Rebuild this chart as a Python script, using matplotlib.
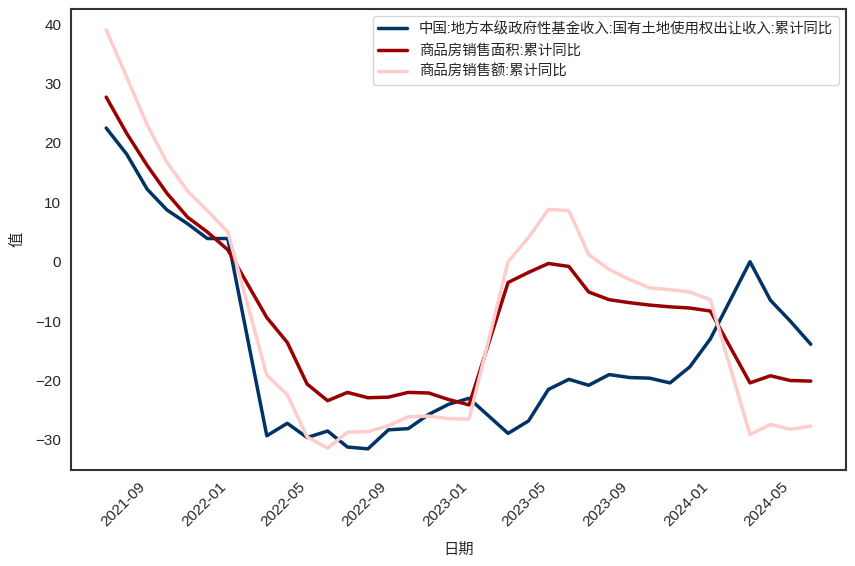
import matplotlib
matplotlib.use("Agg")
import matplotlib.pyplot as plt
import matplotlib.dates as mdates
import pandas as pd
import seaborn as sns

# month-end dates (January is folded into February in the source data)
dates = [
    "2021-06-30", "2021-07-31", "2021-08-31", "2021-09-30", "2021-10-31", "2021-11-30", "2021-12-31",
    "2022-02-28", "2022-03-31", "2022-04-30", "2022-05-31", "2022-06-30", "2022-07-31",
    "2022-08-31", "2022-09-30", "2022-10-31", "2022-11-30", "2022-12-31",
    "2023-02-28", "2023-03-31", "2023-04-30", "2023-05-31", "2023-06-30", "2023-07-31",
    "2023-08-31", "2023-09-30", "2023-10-31", "2023-11-30", "2023-12-31",
    "2024-02-29", "2024-03-31", "2024-04-30", "2024-05-31",
]

land_income = [
    22.5, 18.1, 12.2, 8.7, 6.4, 3.9, 3.9,
    -29.3, -27.2, -29.6, -28.5, -31.2, -31.5, -28.3, -28.1, -25.7, -24.0, -23.0,
    -28.9, -26.8, -21.5, -19.8, -20.8, -19.0, -19.5, -19.6, -20.4, -17.7, -13.0,
    0.0, -6.5, -10.0, -13.9,
]
sales_area = [
    27.7, 21.6, 16.2, 11.5, 7.5, 5.0, 2.0,
    -9.4, -13.6, -20.6, -23.4, -22.0, -22.9, -22.8, -22.0, -22.1, -23.2, -24.1,
    -3.5, -1.8, -0.3, -0.8, -5.1, -6.4, -6.9, -7.3, -7.6, -7.8, -8.3,
    -20.4, -19.2, -20.0, -20.1,
]
sales_value = [
    39.0, 31.1, 23.0, 16.7, 11.9, 8.6, 5.0,
    -19.1, -22.4, -29.5, -31.4, -28.7, -28.6, -27.6, -26.1, -26.0, -26.4, -26.5,
    0.0, 4.1, 8.8, 8.6, 1.2, -1.3, -3.0, -4.4, -4.7, -5.1, -6.4,
    -29.1, -27.4, -28.2, -27.7,
]

labels = [
    "中国:地方本级政府性基金收入:国有土地使用权出让收入:累计同比",
    "商品房销售面积:累计同比",
    "商品房销售额:累计同比",
]
colors = ["#003366", "#990000", "#FFCCCC"]

sns.set_style("white")
plt.rcParams["font.family"] = ["Liberation Sans", "Noto Sans CJK SC", "DejaVu Sans"]
plt.rcParams["axes.unicode_minus"] = True

x = pd.to_datetime(dates)

fig, ax = plt.subplots(figsize=(8.55, 5.66), dpi=100)
fig.subplots_adjust(left=0.083, right=0.9895, top=0.984, bottom=0.170)

for ys, lab, c in zip([land_income, sales_area, sales_value], labels, colors):
    ax.plot(x, ys, color=c, linewidth=2.5, label=lab)

ax.xaxis.set_major_locator(mdates.MonthLocator(bymonth=[1, 5, 9]))
ax.xaxis.set_major_formatter(mdates.DateFormatter("%Y-%m"))
plt.setp(ax.get_xticklabels(), rotation=45, ha="right", fontsize=11)
plt.setp(ax.get_yticklabels(), fontsize=11)

ax.set_xlabel("日期", fontsize=11, labelpad=10)
ax.set_ylabel("值", fontsize=11, labelpad=8)
ax.legend(loc="upper right", fontsize=10.4)

for s in ax.spines.values():
    s.set_color("#333333")
    s.set_linewidth(1.5)

plt.savefig("out.png", dpi=100)
plt.close()
